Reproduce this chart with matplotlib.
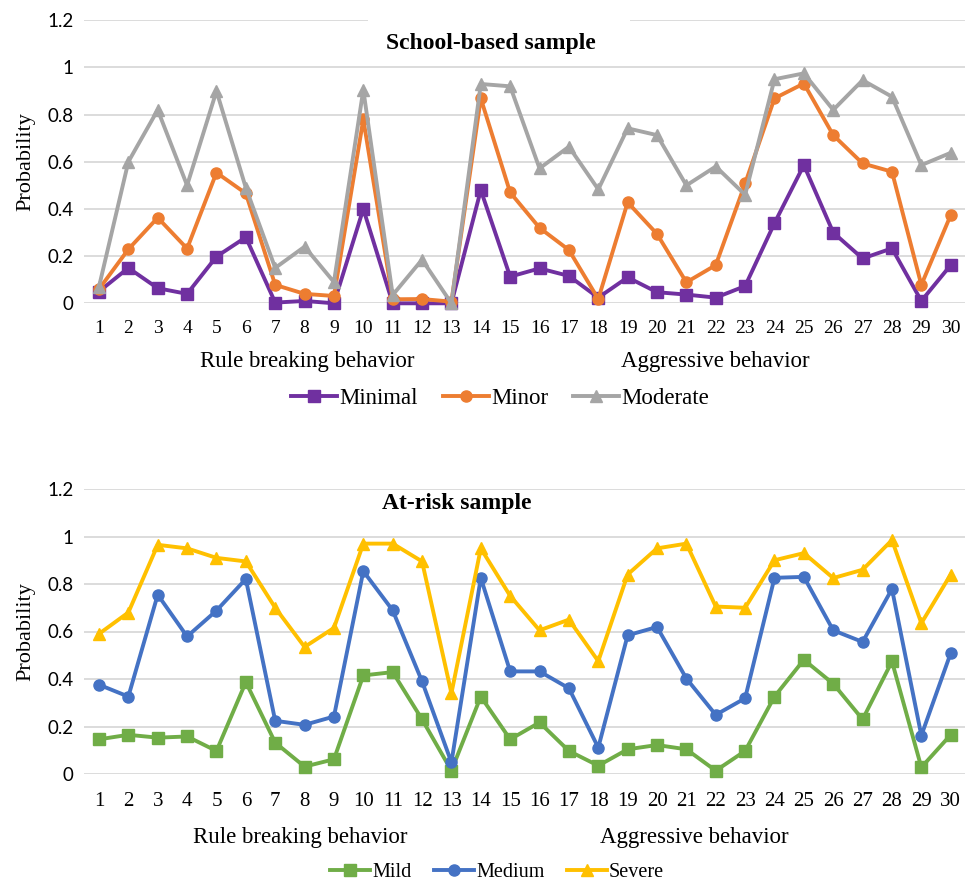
import matplotlib
matplotlib.use("Agg")
import matplotlib.pyplot as plt
from matplotlib.patches import Rectangle

items = list(range(1, 31))
y_ticks = [0, 0.2, 0.4, 0.6, 0.8, 1, 1.2]
y_tick_labels = ["0", "0.2", "0.4", "0.6", "0.8", "1", "1.2"]

minimal = [0.05, 0.15, 0.064, 0.04, 0.198, 0.28, 0.003, 0.01, 0.0, 0.40,
           0.0, 0.0, 0.0, 0.48, 0.113, 0.148, 0.116, 0.024, 0.11, 0.047,
           0.037, 0.024, 0.073, 0.34, 0.586, 0.30, 0.19, 0.233, 0.01, 0.162]
minor = [0.06, 0.229, 0.363, 0.232, 0.554, 0.466, 0.078, 0.04, 0.031, 0.78,
         0.017, 0.018, 0.007, 0.869, 0.47, 0.32, 0.226, 0.018, 0.428, 0.294,
         0.089, 0.162, 0.508, 0.869, 0.932, 0.713, 0.593, 0.558, 0.078, 0.374]
moderate = [0.07, 0.60, 0.82, 0.50, 0.90, 0.49, 0.15, 0.24, 0.09, 0.905,
            0.035, 0.185, 0.0, 0.93, 0.92, 0.572, 0.664, 0.483, 0.742, 0.713,
            0.50, 0.58, 0.46, 0.95, 0.975, 0.82, 0.946, 0.876, 0.586, 0.638]

mild = [0.146, 0.165, 0.153, 0.158, 0.097, 0.387, 0.132, 0.031, 0.062, 0.415,
        0.429, 0.23, 0.014, 0.326, 0.146, 0.217, 0.097, 0.035, 0.104, 0.122,
        0.104, 0.014, 0.097, 0.326, 0.481, 0.38, 0.23, 0.474, 0.028, 0.165]
medium = [0.376, 0.326, 0.755, 0.579, 0.688, 0.821, 0.224, 0.207, 0.242, 0.854,
          0.689, 0.39, 0.049, 0.826, 0.432, 0.432, 0.361, 0.111, 0.584, 0.619,
          0.402, 0.249, 0.319, 0.826, 0.83, 0.605, 0.556, 0.779, 0.162, 0.509]
severe = [0.59, 0.68, 0.965, 0.95, 0.91, 0.895, 0.70, 0.535, 0.615, 0.97,
          0.97, 0.895, 0.34, 0.95, 0.75, 0.605, 0.65, 0.475, 0.84, 0.95,
          0.97, 0.705, 0.70, 0.90, 0.93, 0.825, 0.86, 0.985, 0.635, 0.84]

W, H = 965, 883
fig = plt.figure(figsize=(W / 100, H / 100), dpi=100)

SERIF = "Liberation Serif"
SANS = "Lato"


def fx(px):
    return px / W


def fy(py):
    return 1 - py / H


def make_axes(y0_px, y12_px, xfs, xpad):
    ax = fig.add_axes([fx(84.3), fy(y0_px), fx(965.4) - fx(84.3), fy(y12_px) - fy(y0_px)])
    ax.set_xlim(0.5, 30.5)
    ax.set_ylim(0, 1.2)
    ax.set_yticks(y_ticks)
    ax.set_yticklabels(y_tick_labels, fontfamily=SANS, fontsize=13.5)
    ax.set_xticks(items)
    ax.set_xticklabels([str(i) for i in items], fontfamily=SERIF, fontsize=xfs)
    ax.tick_params(length=0)
    ax.tick_params(axis="x", pad=xpad)
    ax.tick_params(axis="y", pad=8)
    for s in ax.spines.values():
        s.set_visible(False)
    ax.set_axisbelow(True)
    ax.grid(axis="y", color="#D9D9D9", lw=1.3)
    ax.set_ylabel("Probability", fontfamily=SERIF, fontsize=16, labelpad=8)
    return ax


def draw(ax, ys, color, marker, ms, label):
    ax.plot(items, ys, color=color, lw=2.8, marker=marker, ms=ms,
            label=label, clip_on=False, zorder=3)


# Top chart
ax1 = make_axes(303.3, 20.3, 14, 12)
draw(ax1, minimal, "#7030A0", "s", 8, "Minimal")
draw(ax1, minor, "#ED7D31", "o", 8, "Minor")
draw(ax1, moderate, "#A5A5A5", "^", 9, "Moderate")
ax1.add_patch(Rectangle((10.15, 1.17), 19.07 - 10.15, 0.06, facecolor="white",
                        edgecolor="none", zorder=1, clip_on=False))
fig.text(fx(491), fy(43), "School-based sample", fontfamily=SERIF,
         fontweight="bold", fontsize=17, ha="center", va="center")
fig.text(fx(307), fy(362), "Rule breaking behavior", fontfamily=SERIF,
         fontsize=16.5, ha="center", va="center")
fig.text(fx(715), fy(362), "Aggressive behavior", fontfamily=SERIF,
         fontsize=16.5, ha="center", va="center")
h, l = ax1.get_legend_handles_labels()
fig.legend(h, l, loc="center", bbox_to_anchor=(fx(500), fy(398)), ncol=3,
           frameon=False, prop={"family": SERIF, "size": 16.5},
           handlelength=2.0, handletextpad=0.1, columnspacing=1.1)

# Bottom chart
ax2 = make_axes(774, 489, 15, 13)
draw(ax2, mild, "#70AD47", "s", 8, "Mild")
draw(ax2, medium, "#4472C4", "o", 8, "Medium")
draw(ax2, severe, "#FFC000", "^", 9, "Severe")
fig.text(fx(457), fy(504), "At-risk sample", fontfamily=SERIF,
         fontweight="bold", fontsize=17, ha="center", va="center")
fig.text(fx(300), fy(838), "Rule breaking behavior", fontfamily=SERIF,
         fontsize=16.5, ha="center", va="center")
fig.text(fx(694), fy(838), "Aggressive behavior", fontfamily=SERIF,
         fontsize=16.5, ha="center", va="center")
h, l = ax2.get_legend_handles_labels()
fig.legend(h, l, loc="center", bbox_to_anchor=(fx(497), fy(872)), ncol=3,
           frameon=False, prop={"family": SERIF, "size": 14.5},
           handlelength=2.0, handletextpad=0.1, columnspacing=1.1)

fig.savefig("out.png", dpi=100)
